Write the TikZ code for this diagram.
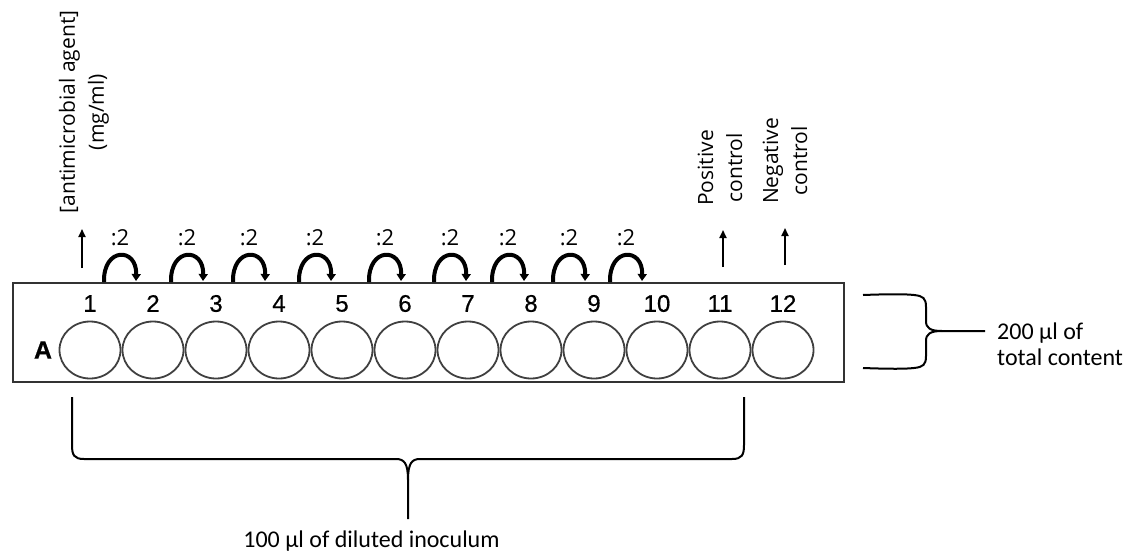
\documentclass[tikz,border=0pt]{standalone}
\usepackage{fontspec}
\setmainfont{Open Sans}
\newfontfamily\calfont{Carlito}
\newfontfamily\arfont[FakeBold=0.6]{Liberation Sans}
\usetikzlibrary{arrows.meta,shapes.geometric}
\begin{document}
\begin{tikzpicture}[x=1pt,y=-1pt,
  plate/.style={draw=black!80,line width=2pt},
  well/.style={draw=black!75,line width=1.8pt,ellipse,minimum width=61pt,minimum height=57pt,inner sep=0pt},
  num/.style={font=\arfont\bfseries\fontsize{24}{26}\selectfont,inner sep=0pt},
  lbl/.style={font=\fontsize{21}{29}\selectfont,inner sep=0pt,align=center},
  ratio/.style={font=\fontsize{22}{26}\selectfont,inner sep=0pt},
  cal/.style={font=\calfont\fontsize{24}{26}\selectfont,inner sep=0pt},
  transfer/.style={line width=4pt,-{Triangle[length=7pt,width=9pt]}},
  uparrow/.style={line width=1.8pt,-{Triangle[length=8pt,width=7pt]}},
  brace/.style={line width=2pt,black}]
\useasboundingbox (0,0) rectangle (1131,554);
% plate
\node[plate,minimum width=831pt,minimum height=99pt,inner sep=0pt,anchor=north west] (plate) at (12,282) {};
\foreach \i in {1,...,12}{
  \node[well] (w\i) at ({90+63*(\i-1)},350) {};
  \node[num,font=\arfont\fontsize{24}{26}\selectfont] (n\i) at ({90+63*(\i-1)},303.5) {\i};
}
\node[num,font=\arfont\bfseries\fontsize{25}{26}\selectfont] (rowA) at (43,350) {A};
% transfer arcs
\foreach \c [count=\k] in {120,187,249,315,385,450,508,569,626}{
  \coordinate (s\k) at ({\c-16},282);
  \coordinate (e\k) at ({\c+16},281);
  \draw[transfer] (s\k) .. controls ({\c-17},247) and ({\c+17},247) .. (e\k);
  \node[ratio] (d\k) at (\c,238) {:2};
}
% up arrows and labels
\coordinate (a1) at (82,268); \coordinate (b1) at (82,229);
\coordinate (a11) at (723,267); \coordinate (b11) at (723,230);
\coordinate (a12) at (785,265); \coordinate (b12) at (785,228);
\draw[uparrow] (a1) -- (b1);
\draw[uparrow] (a11) -- (b11);
\draw[uparrow] (a12) -- (b12);
\node[lbl,rotate=90] (conc) at (84,112) {[antimicrobial agent]\\(mg/ml)};
\node[lbl,rotate=90] (pos) at (720,168) {Positive\\control};
\node[lbl,rotate=90] (neg) at (785,161) {Negative\\control};
% right brace
\coordinate (rb) at (985,331);
\draw[brace] (863,295) .. controls (890,294) and (905,294) .. (914,295) .. controls (923,296) and (926,298) .. (926,307) -- (926,321) .. controls (926,328) and (930,331) .. (942,331) -- (rb);
\draw[brace] (942,331) .. controls (930,331) and (926,334) .. (926,341) -- (926,356) .. controls (926,365) and (923,367) .. (914,368) .. controls (905,369) and (890,369) .. (863,368);
\node[cal,anchor=west,align=left] (total) at (997,344) {200 µl of\\total content};
% bottom brace
\coordinate (bt) at (408,519);
\draw[brace] (72,397) -- (72,445) .. controls (72,455) and (74,459) .. (84,459) -- (396,459) .. controls (404,459) and (408,463) .. (408,480) -- (bt);
\draw[brace] (408,480) .. controls (408,463) and (412,459) .. (420,459) -- (732,459) .. controls (742,459) and (744,455) .. (744,445) -- (744,397);
\node[cal] (inoc) at (371.5,541) {100 µl of diluted inoculum};
\end{tikzpicture}
\end{document}
